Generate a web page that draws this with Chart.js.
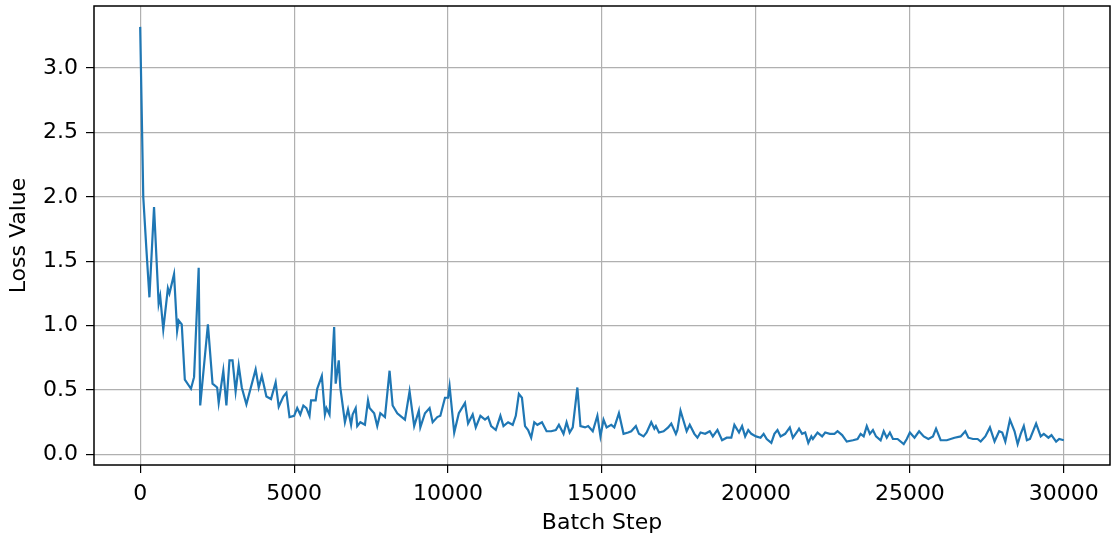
<!DOCTYPE html>
<html>
<head>
<meta charset="utf-8">
<script src="https://cdn.jsdelivr.net/npm/chart.js@4/dist/chart.umd.min.js"></script>
<style>
  html, body { margin: 0; padding: 0; background: #fff; }
  #wrap { width: 1112px; height: 539px; }
</style>
</head>
<body>
<div id="wrap"><canvas id="lossChart" width="1112" height="539"></canvas></div>
<script>
// batch step / loss value
const steps = [
  0, 100, 200, 300, 450, 600, 650, 750, 900, 950, 1100, 1200, 1250, 1350, 1450, 1650, 1750, 1900, 1950, 2200,
  2350, 2500, 2550, 2700, 2800, 2900, 3000, 3100, 3200, 3300, 3450, 3750, 3850, 3950, 4100, 4250, 4400, 4500,
  4650, 4750, 4850, 5000, 5100, 5200, 5300, 5400, 5500, 5550, 5700, 5750, 5900, 6000, 6050, 6150, 6300, 6350,
  6450, 6500, 6650, 6750, 6850, 6900, 7000, 7050, 7150, 7300, 7400, 7450, 7600, 7700, 7800, 7950, 8100, 8200,
  8350, 8450, 8600, 8750, 8900, 9050, 9100, 9250, 9400, 9500, 9650, 9750, 9900, 10000, 10050, 10200, 10350,
  10550, 10650, 10800, 10900, 11050, 11200, 11300, 11400, 11550, 11700, 11800, 11950, 12100, 12200, 12300,
  12400, 12500, 12600, 12700, 12800, 12900, 13050, 13200, 13350, 13500, 13600, 13750, 13850, 13950, 14050,
  14200, 14300, 14450, 14550, 14700, 14850, 14950, 15050, 15150, 15300, 15400, 15550, 15700, 15850, 15950,
  16100, 16200, 16350, 16450, 16600, 16700, 16750, 16850, 17000, 17150, 17250, 17400, 17450, 17550, 17650,
  17750, 17850, 18000, 18100, 18200, 18350, 18500, 18600, 18750, 18900, 19050, 19200, 19300, 19450, 19550,
  19650, 19750, 19850, 20000, 20150, 20250, 20350, 20500, 20600, 20700, 20800, 20950, 21100, 21200, 21350,
  21400, 21500, 21600, 21700, 21800, 21850, 22000, 22150, 22250, 22400, 22550, 22650, 22800, 22950, 23150,
  23300, 23400, 23500, 23600, 23700, 23800, 23900, 24050, 24150, 24250, 24350, 24450, 24600, 24800, 24900,
  25000, 25150, 25300, 25450, 25600, 25750, 25850, 26000, 26200, 26450, 26650, 26800, 26900, 27050, 27200,
  27300, 27450, 27600, 27750, 27900, 28000, 28100, 28250, 28400, 28500, 28600, 28700, 28800, 28900, 29100,
  29250, 29350, 29500, 29600, 29750, 29850, 30000
];
const losses = [
  3.32, 2.00, 1.60, 1.22, 1.92, 1.17, 1.23, 0.97, 1.29, 1.25, 1.40, 0.96, 1.04, 1.01, 0.58, 0.51, 0.60, 1.45, 0.38, 1.01,
  0.55, 0.52, 0.40, 0.65, 0.38, 0.73, 0.73, 0.49, 0.69, 0.52, 0.39, 0.66, 0.52, 0.61, 0.45, 0.43, 0.56, 0.37,
  0.45, 0.48, 0.29, 0.30, 0.36, 0.31, 0.38, 0.36, 0.30, 0.42, 0.42, 0.51, 0.61, 0.31, 0.36, 0.31, 0.99, 0.55,
  0.73, 0.52, 0.25, 0.35, 0.23, 0.31, 0.36, 0.22, 0.25, 0.23, 0.42, 0.36, 0.32, 0.22, 0.32, 0.29, 0.65, 0.38,
  0.32, 0.30, 0.27, 0.49, 0.22, 0.34, 0.21, 0.32, 0.36, 0.25, 0.29, 0.30, 0.44, 0.44, 0.53, 0.17, 0.32,
  0.40, 0.24, 0.31, 0.21, 0.30, 0.27, 0.29, 0.22, 0.19, 0.30, 0.22, 0.25, 0.23, 0.30, 0.47,
  0.44, 0.22, 0.19, 0.13, 0.25, 0.23, 0.25, 0.18, 0.18, 0.19, 0.23, 0.16, 0.25, 0.17, 0.21,
  0.52, 0.22, 0.21, 0.22, 0.18, 0.30, 0.14, 0.27, 0.21, 0.23, 0.21, 0.32, 0.16, 0.17, 0.18,
  0.22, 0.16, 0.14, 0.17, 0.25, 0.20, 0.22, 0.17, 0.18, 0.21, 0.24, 0.16, 0.19, 0.34, 0.26,
  0.18, 0.23, 0.16, 0.13, 0.17, 0.16, 0.18, 0.14, 0.19, 0.11, 0.13, 0.13, 0.23, 0.17, 0.22,
  0.14, 0.19, 0.16, 0.14, 0.13, 0.16, 0.12, 0.09, 0.16, 0.19, 0.14, 0.16, 0.21, 0.13, 0.18,
  0.20, 0.16, 0.17, 0.09, 0.14, 0.12, 0.17, 0.14, 0.17, 0.16, 0.16, 0.18, 0.15, 0.10, 0.11,
  0.12, 0.16, 0.14, 0.22, 0.16, 0.19, 0.14, 0.11, 0.18, 0.13, 0.17, 0.12, 0.12, 0.08, 0.12,
  0.17, 0.13, 0.18, 0.14, 0.12, 0.14, 0.20, 0.11, 0.11, 0.13, 0.14, 0.18, 0.13, 0.12, 0.12,
  0.10, 0.14, 0.21, 0.10, 0.18, 0.17, 0.10, 0.27, 0.18, 0.08, 0.16, 0.22, 0.11, 0.12, 0.24,
  0.14, 0.16, 0.13, 0.15, 0.10, 0.12, 0.11
];
const xTicks = [0, 5000, 10000, 15000, 20000, 25000, 30000];
const yTicks = [0.0, 0.5, 1.0, 1.5, 2.0, 2.5, 3.0];

const FONT = { family: "'DejaVu Sans', sans-serif", size: 22 };

// black box round the plot area, like the matplotlib axes frame
const frame = {
    id: "frame",
    afterDraw(c) {
        const a = c.chartArea, g = c.ctx;
        g.save();
        g.strokeStyle = "#000";
        g.lineWidth = 1.5;
        g.strokeRect(a.left, a.top, a.right - a.left, a.bottom - a.top);
        g.restore();
    }
};

new Chart(document.getElementById("lossChart"), {
    type: "line",
    data: {
        datasets: [{
            data: steps.map((s, i) => ({ x: s, y: losses[i] })),
            borderColor: "#1f77b4",
            borderWidth: 2.2,
            pointRadius: 0,
            tension: 0,
            fill: false
        }]
    },
    options: {
        responsive: false,
        animation: false,
        layout: { padding: { top: 6, right: 2, left: 0, bottom: 0 } },
        plugins: { legend: { display: false }, tooltip: { enabled: false } },
        scales: {
            x: {
                type: "linear",
                min: -1500,
                max: 31500,
                afterBuildTicks: s => { s.ticks = xTicks.map(v => ({ value: v })); },
                afterFit: s => { s.height = 74; s.paddingLeft = 0; s.paddingRight = 0; },
                grid: { color: "#b0b0b0", lineWidth: 1.2, tickColor: "#000", tickLength: 8 },
                border: { display: false },
                ticks: { color: "#000", font: FONT, padding: 8, maxRotation: 0, callback: v => String(v) },
                title: { display: true, text: "Batch Step", color: "#000", font: FONT, padding: { top: 0, bottom: 3 } }
            },
            y: {
                min: -0.082,
                max: 3.482,
                afterBuildTicks: s => { s.ticks = yTicks.map(v => ({ value: v })); },
                afterFit: s => { s.width = 94; s.paddingTop = 0; s.paddingBottom = 0; },
                grid: { color: "#b0b0b0", lineWidth: 1.2, tickColor: "#000", tickLength: 8 },
                border: { display: false },
                ticks: { color: "#000", font: FONT, padding: 8, callback: v => v.toFixed(1) },
                title: { display: true, text: "Loss Value", color: "#000", font: FONT, padding: { top: 6, bottom: 0 } }
            }
        }
    },
    plugins: [frame]
});
</script>
</body>
</html>
